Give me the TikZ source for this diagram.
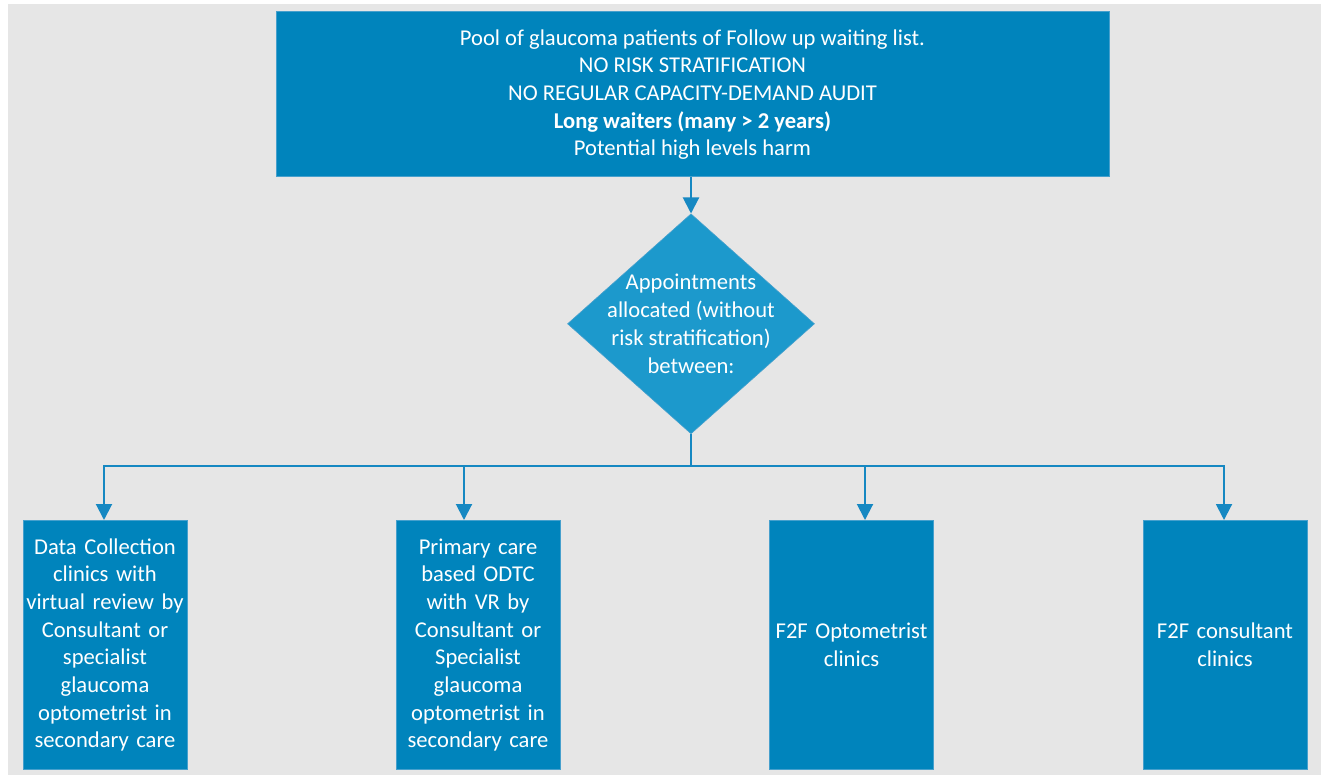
\documentclass[tikz,border=0pt]{standalone}
\usepackage{fontspec}
\setmainfont{Carlito}
\usetikzlibrary{arrows.meta, positioning, shapes.geometric, calc}

\definecolor{boxblue}{RGB}{0,132,188}
\definecolor{diablue}{RGB}{28,153,204}
\definecolor{edgeblue}{RGB}{70,160,205}
\definecolor{linkblue}{RGB}{22,136,194}
\definecolor{bggray}{RGB}{230,230,230}

\begin{document}
\begin{tikzpicture}[
    x=1pt, y=1pt, >={Triangle[width=16pt,length=16pt]},
    every node/.style={font=\fontsize{22.6}{27.7}\selectfont, text=white},
    bluebox/.style={draw=edgeblue, line width=1pt, fill=boxblue,
        align=center, inner sep=0pt},
    clinic/.style={bluebox, minimum width=164pt, minimum height=249pt,
        text width=162pt, anchor=north},
    link/.style={draw=linkblue, line width=2pt}
  ]
  \useasboundingbox (0,0) rectangle (1321,-775);
  \fill[bggray] (8,-4) rectangle (1321,-775);

  \node[bluebox, minimum width=833pt, minimum height=165pt] (pool)
    at (692.5,-94.5)
    {Pool of glaucoma patients of Follow up waiting list.\\
     NO RISK STRATIFICATION\\
     NO REGULAR CAPACITY-DEMAND AUDIT\\
     \textbf{Long waiters (many > 2 years)}\\
     Potential high levels harm};
  \node[diamond, fill=diablue, draw=edgeblue, line width=0.6pt,
        minimum width=247pt, minimum height=220pt, inner sep=0pt,
        below=36pt of pool.south, anchor=north, xshift=-1.5pt] (alloc) {};
  \node[align=center] (alloctxt) at (alloc.center)
    {Appointments\\ allocated (without\\ risk stratification)\\ between:};

  % clinics along the bottom
  \node[clinic] (dcc) at (105,-520)
    {Data Collection\\ clinics with\\ virtual review by\\ Consultant or\\
     specialist\\ glaucoma\\ optometrist in\\ secondary care};
  \node[clinic] (odtc) at (478,-520)
    {Primary care\\ based ODTC\\ with VR by\\ Consultant or\\
     Specialist\\ glaucoma\\ optometrist in\\ secondary care};
  \node[clinic] (optom) at (851.5,-520) {F2F Optometrist\\ clinics};
  \node[clinic] (cons) at (1225,-520) {F2F consultant\\ clinics};

  \draw[link, ->] (pool.south -| alloc.north) -- (alloc.north);
  \draw[link] (alloc.south) -- ++(0,-32) coordinate (split);
  \draw[link, ->] (split) -| ([xshift=-1pt]dcc.north);
  \draw[link, ->] (split) -| ([xshift=-14pt]odtc.north);
  \draw[link, ->] (split) -| ([xshift=13.5pt]optom.north);
  \draw[link, ->] (split) -| ([xshift=-1pt]cons.north);
\end{tikzpicture}
\end{document}
